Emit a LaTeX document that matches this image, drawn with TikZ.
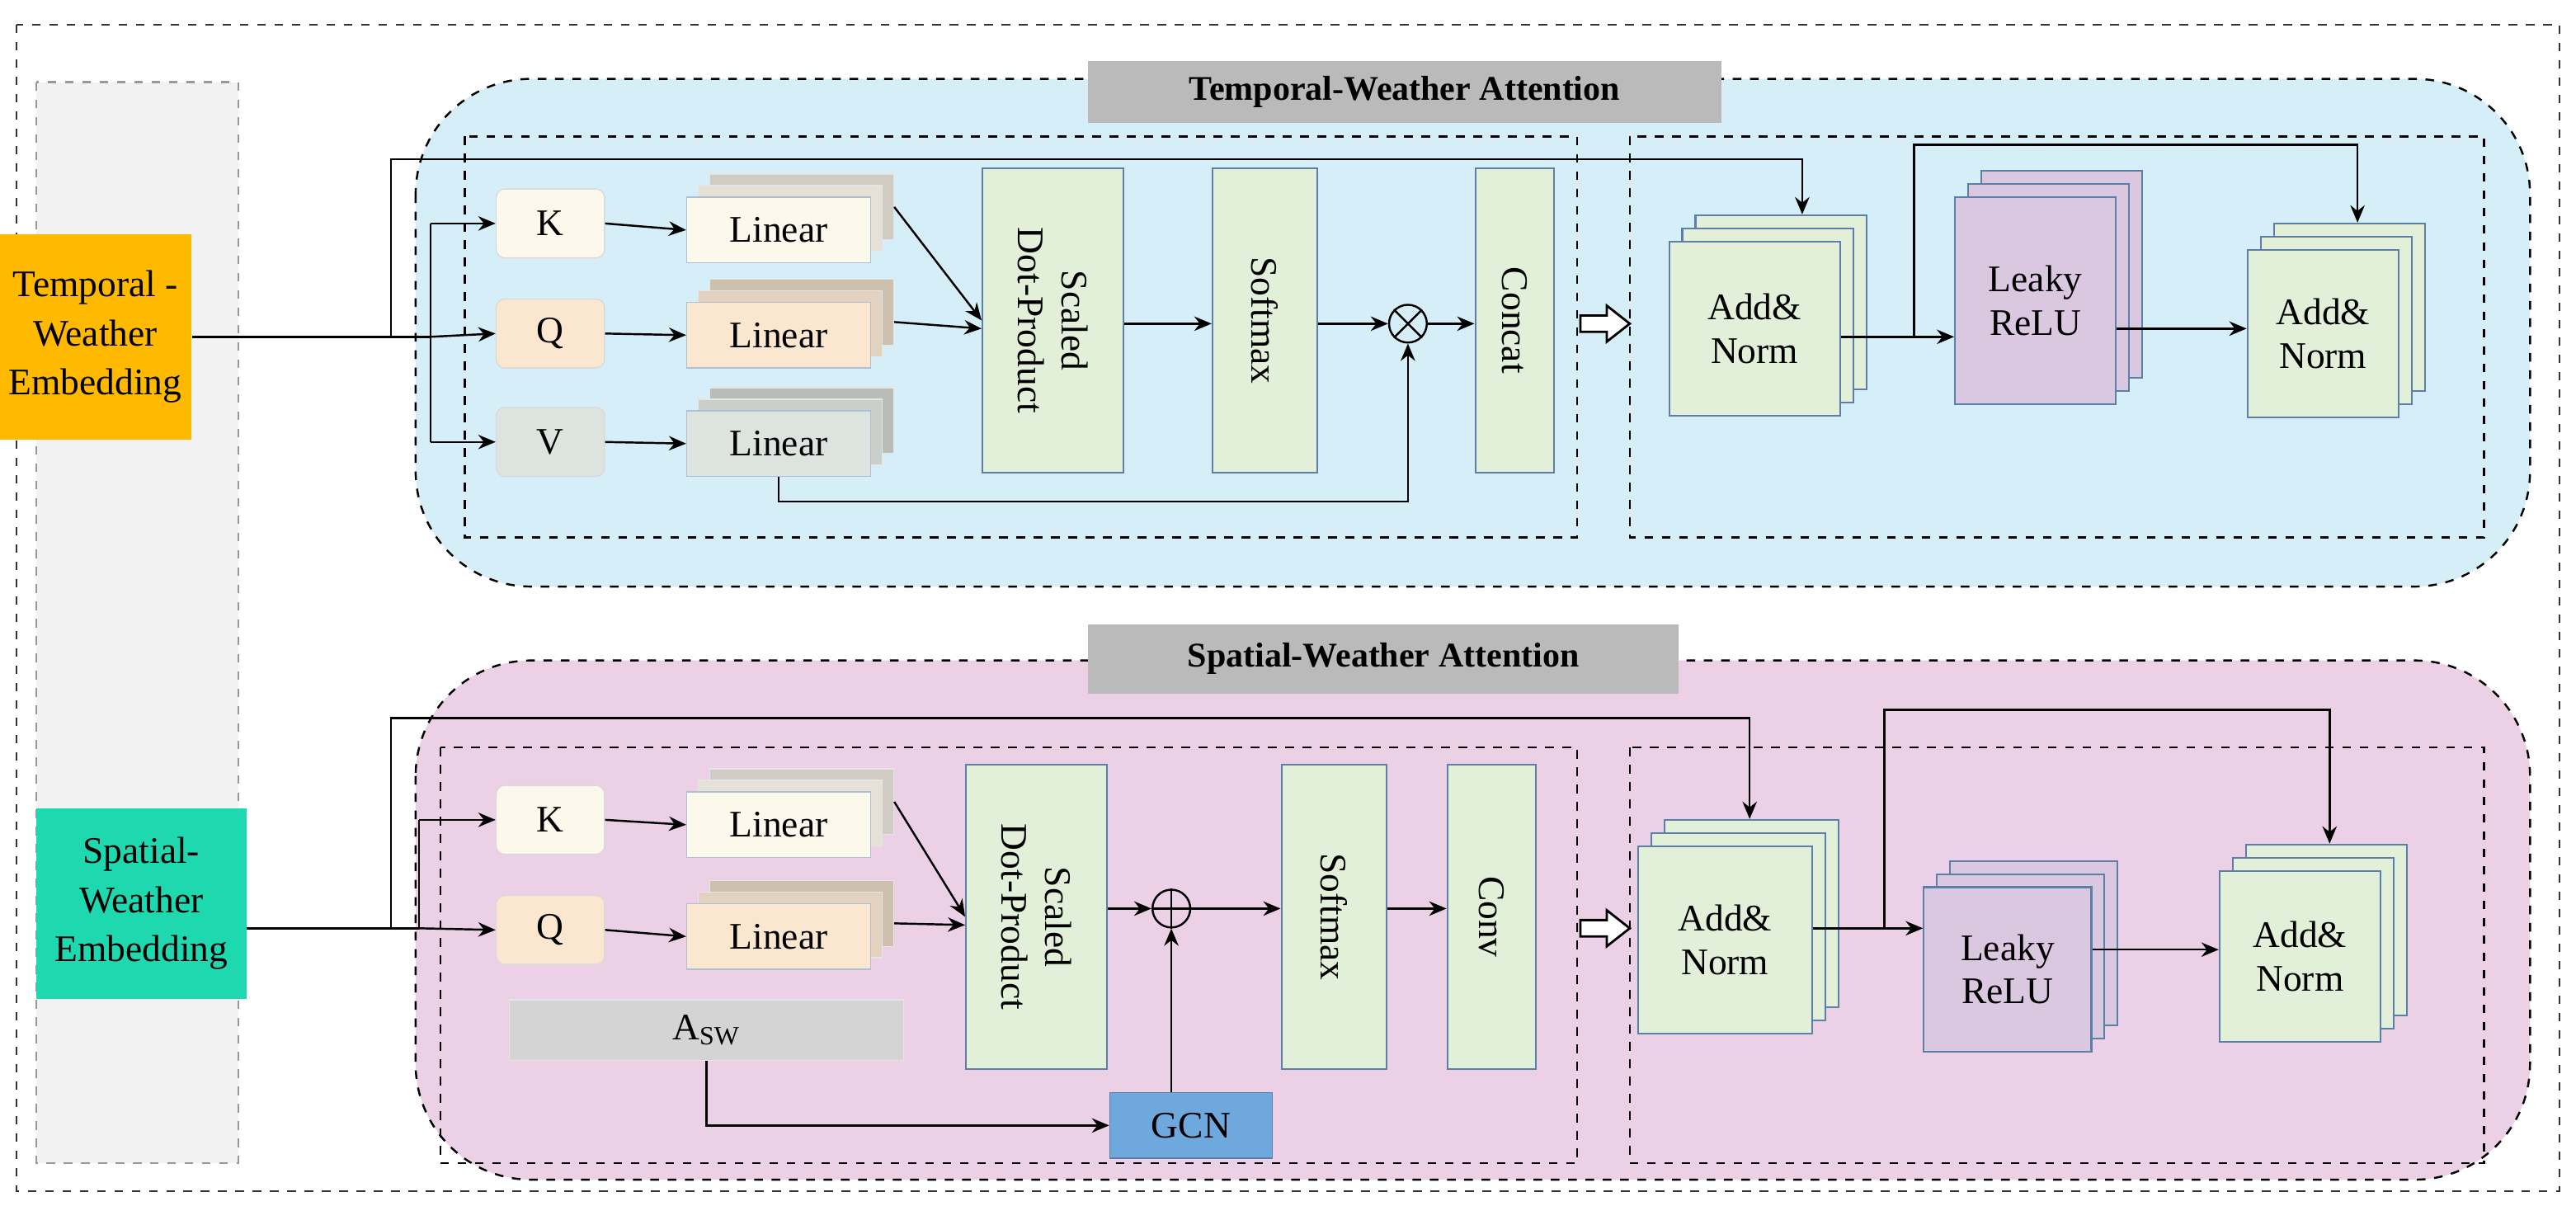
\documentclass[tikz,border=0pt]{standalone}
\usepackage{fontspec}
\setmainfont{Liberation Serif}
\usetikzlibrary{arrows.meta,calc}
\definecolor{blueReg}{HTML}{D6EEF8}
\definecolor{pinkReg}{HTML}{ECD1E6}
\definecolor{grn}{HTML}{E2F0D9}
\definecolor{pur}{HTML}{D9C8E0}
\definecolor{kf}{HTML}{FDF8EC}
\definecolor{qf}{HTML}{FBE7D0}
\definecolor{vf}{HTML}{DDE3DE}
\definecolor{bord}{HTML}{5B7FA8}
\definecolor{orng}{HTML}{FFBA00}
\definecolor{teal}{HTML}{1ED9B0}
\definecolor{gcn}{HTML}{6FA8DC}
\tikzset{
 every node/.style={font=\fontsize{13}{15}\selectfont},
 box/.style={draw=bord,line width=0.6pt,inner sep=0pt},
 kq/.style={draw=black!15,rounded corners=3pt,inner sep=0pt,minimum width=1.32cm,minimum height=0.84cm},
 dsh/.style={dashed,line width=0.7pt},
 arr/.style={-{Stealth[length=6pt,width=5pt]},line width=0.7pt},
 ln/.style={line width=0.7pt},
 title/.style={fill=black!27,font=\fontsize{12}{14}\selectfont\bfseries,inner sep=0pt},
 hollow/.style={fill=white,draw=black,line width=0.8pt},
 emb/.style={inner sep=0pt,align=center,font=\fontsize{13}{17}\selectfont},
}
\newcommand\blk[2]{% x y : block arrow starting at x, centred y
 \draw[hollow] (#1,#2-5) -- (#1+16,#2-5) -- (#1+16,#2-11) -- (#1+30,#2) -- (#1+16,#2+11) -- (#1+16,#2+5) -- (#1,#2+5) -- cycle;}
\newcommand\stk[8]{%
 \node[box,fill=#7,minimum width=#4*0.02cm,minimum height=#5*0.02cm] (#1c) at (#2+2*#6,#3-2*#6) {};
 \node[box,fill=#7,minimum width=#4*0.02cm,minimum height=#5*0.02cm] (#1b) at (#2+#6,#3-#6) {};
 \node[box,fill=#7,minimum width=#4*0.02cm,minimum height=#5*0.02cm,align=center] (#1) at (#2,#3) {#8};}
\newcommand\lin[4]{%
 \node[fill=#4!80!black!90,draw=black!10,minimum width=2.24cm,minimum height=0.8cm,inner sep=0pt] (#1c) at (#2+14,#3-14) {};
 \node[fill=#4!90!black!95,draw=black!10,minimum width=2.24cm,minimum height=0.8cm,inner sep=0pt] (#1b) at (#2+7,#3-7) {};
 \node[fill=#4,draw=bord!50,minimum width=2.24cm,minimum height=0.8cm,inner sep=0pt] (#1) at (#2,#3) {Linear};}
\newcommand\tall[6]{% name cx cy w h text
 \node[box,fill=grn,minimum width=#4*0.02cm,minimum height=#5*0.02cm] (#1) at (#2,#3) {};
 \node[rotate=-90,align=center] at (#1) {#6};}
\begin{document}
\begin{tikzpicture}[x=0.02cm,y=-0.02cm]
\useasboundingbox (0,0) rectangle (1568,734);
\draw[dsh,black!80] (10,15) rectangle (1558,725);
\draw[dsh,black!40,fill=black!5] (22,50) rectangle (145,708);
% regions
\draw[dsh,fill=blueReg,rounded corners=40] (253,48) rectangle (1540,357);
\draw[dsh,fill=pinkReg,rounded corners=40] (253,402) rectangle (1540,718);
\node[title,minimum width=7.72cm,minimum height=0.76cm] (t1) at (855,56) {Temporal-Weather Attention};
\node[title,minimum width=7.2cm,minimum height=0.84cm] (t2) at (842,401) {Spatial-Weather Attention};
\draw[dsh] (283,83) rectangle (960,327);
\draw[dsh] (992,83) rectangle (1512,327);
\draw[dsh] (268,455) rectangle (960,708);
\draw[dsh] (992,455) rectangle (1512,708);
% embeddings
\node[emb,fill=orng,minimum width=2.34cm,minimum height=2.5cm] (e1) at (58,205) {Temporal -\\Weather\\Embedding};
\node[emb,fill=teal,minimum width=2.56cm,minimum height=2.32cm] (e2) at (86,550) {Spatial-\\Weather\\Embedding};
% ===== top
\node[kq,fill=kf] (K1) at (335,136) {K};
\node[kq,fill=qf] (Q1) at (335,203) {Q};
\node[kq,fill=vf] (V1) at (335,269) {V};
\lin{L1}{474}{140}{kf}
\lin{L2}{474}{204}{qf}
\lin{L3}{474}{270}{vf}
\tall{S1}{641}{195}{86}{185}{Scaled\\Dot-Product}
\tall{M1}{770}{195}{64}{185}{Softmax}
\tall{C1}{922}{195}{48}{185}{Concat}
\node[draw,circle,minimum size=0.46cm,inner sep=0pt,line width=0.7pt] (X1) at (857,197) {};
\draw[ln] (X1.north west)--(X1.south east) (X1.north east)--(X1.south west);
\coordinate (j1) at (262,205);
\draw[ln] (e1.east) -- (j1);
\draw[ln] (262,136) -- (262,269);
\draw[arr] (262,136) -- (K1.west);
\draw[arr] (j1) -- (Q1.west);
\draw[arr] (262,269) -- (V1.west);
\draw[arr] (K1.east) -- (L1.west);
\draw[arr] (Q1.east) -- (L2.west);
\draw[arr] (V1.east) -- (L3.west);
\draw[arr] (L1c.east) -- (S1.west);
\draw[arr] ($(L2c.east)+(0,6)$) -- ($(S1.west)+(0,5)$);
\draw[arr] (S1.east|-X1) -- (M1.west|-X1);
\draw[arr] (M1.east|-X1) -- (X1.west);
\draw[arr] (X1.east) -- (C1.west|-X1);
\draw[arr] (L3.south) -- ++(0,15) -| (X1.south);
\blk{962}{197}
\stk{A1}{1068}{200}{104}{106}{8}{grn}{Add\&\\Norm}
\stk{R1}{1239}{183}{98}{126}{8}{pur}{Leaky\\ReLU}
\stk{B1}{1414}{203}{92}{102}{8}{grn}{Add\&\\Norm}
\draw[arr] (238,205) |- (1097,97) -- (A1c.north-|1097,0);
\draw[arr] (A1.east|-0,205) -- (R1.west|-0,205);
\draw[arr] (1165,205) |- (1435,88) -- (B1c.north-|1435,0);
\draw[arr] (R1.east|-0,200) -- (B1.west|-0,200);
% ===== bottom
\node[kq,fill=kf] (K2) at (335,499) {K};
\node[kq,fill=qf] (Q2) at (335,566) {Q};
\lin{L4}{474}{502}{kf}
\lin{L5}{474}{570}{qf}
\node[fill=black!17,draw=black!10,minimum width=4.8cm,minimum height=0.74cm,inner sep=0pt] (A) at (430,627) {A\textsubscript{SW}};
\tall{S2}{631}{558}{86}{185}{Scaled\\Dot-Product}
\tall{M2}{812}{558}{64}{185}{Softmax}
\tall{C2}{908}{558}{54}{185}{Conv}
\node[draw,circle,minimum size=0.46cm,inner sep=0pt,line width=0.7pt] (P2) at (713,553) {};
\draw[ln] (P2.north)--(P2.south) (P2.east)--(P2.west);
\node[fill=gcn,draw=bord,minimum width=1.98cm,minimum height=0.8cm,inner sep=0pt] (G) at (725,685) {GCN};
\coordinate (j2) at (255,565);
\draw[ln] (e2.east|-0,565) -- (j2);
\draw[ln] (255,499) -- (j2);
\draw[arr] (255,499) -- (K2.west);
\draw[arr] (j2) -- (Q2.west);
\draw[arr] (K2.east) -- (L4.west);
\draw[arr] (Q2.east) -- (L5.west);
\draw[arr] (L4c.east) -- (S2.west);
\draw[arr] ($(L5c.east)+(0,6)$) -- ($(S2.west)+(0,5)$);
\draw[arr] (S2.east|-P2) -- (P2.west);
\draw[arr] (P2.east) -- (M2.west|-P2);
\draw[arr] (M2.east|-P2) -- (C2.west|-P2);
\draw[arr] (A.south) |- (G.west);
\draw[arr] (G.north-|P2) -- (P2.south);
\blk{962}{565}
\stk{A2}{1050}{572}{106}{114}{8}{grn}{Add\&\\Norm}
\stk{R2}{1222}{590}{102}{100}{8}{pur}{Leaky\\ReLU}
\stk{B2}{1400}{582}{98}{104}{8}{grn}{Add\&\\Norm}
\draw[arr] (238,565) |- (1065,437) -- (A2c.north-|1065,0);
\draw[arr] (A2.east|-0,565) -- (R2.west|-0,565);
\draw[arr] (1147,565) |- (1418,432) -- (B2c.north-|1418,0);
\draw[arr] (R2.east|-0,578) -- (B2.west|-0,578);
\end{tikzpicture}
\end{document}
